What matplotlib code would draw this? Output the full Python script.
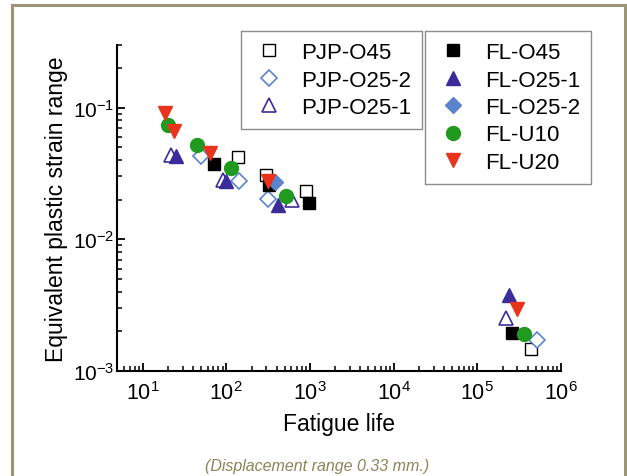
import matplotlib
matplotlib.use('Agg')
from matplotlib import pyplot as plt
from matplotlib.lines import Line2D
from matplotlib.ticker import LogLocator, NullFormatter

plt.rcParams['font.family'] = ['Liberation Sans', 'DejaVu Sans']
plt.rcParams['mathtext.fontset'] = 'custom'
plt.rcParams['mathtext.rm'] = 'Liberation Sans'
plt.rcParams['axes.unicode_minus'] = False


### fatigue life (cycles) and equivalent plastic strain range per series
pjp_o45_n = [138, 302, 908, 434000]
pjp_o45_e = [0.042, 0.031, 0.0231, 0.00146]

pjp_o25_2_n = [50, 142, 316, 521000]
pjp_o25_2_e = [0.0427, 0.0275, 0.0203, 0.00172]

pjp_o25_1_n = [22, 91, 617, 220000]
pjp_o25_1_e = [0.044, 0.0283, 0.020, 0.00251]

fl_o45_n = [71, 321, 968, 262000]
fl_o45_e = [0.037, 0.0257, 0.0188, 0.00196]

fl_o25_1_n = [25.3, 100, 416, 241000]
fl_o25_1_e = [0.0427, 0.0275, 0.0183, 0.00378]

fl_o25_2_n = [386]
fl_o25_2_e = [0.0272]

fl_u10_n = [20, 44, 115, 523, 361000]
fl_u10_e = [0.074, 0.052, 0.035, 0.0214, 0.00191]

fl_u20_n = [18.3, 23.5, 63, 316, 295000]
fl_u20_e = [0.091, 0.066, 0.045, 0.0275, 0.00294]


blue = '#5b84cc'
navy = '#3a2d9a'
red = '#e8341c'
green = '#1f9a1f'

fig = plt.figure(figsize=(6.27, 4.77), dpi=100)
ax = fig.add_axes([0.1874, 0.2201, 0.7073, 0.6841])

# open symbols (PJP)
h1 = ax.plot(pjp_o45_n, pjp_o45_e, ls='none', marker='s', ms=8.5, mfc='white', mec='black', mew=1.0, label='PJP-O45')[0]
h2 = ax.plot(pjp_o25_2_n, pjp_o25_2_e, ls='none', marker='D', ms=8.5, mfc='white', mec=blue, mew=1.2, label='PJP-O25-2')[0]
h3 = ax.plot(pjp_o25_1_n, pjp_o25_1_e, ls='none', marker='^', ms=10.5, mfc='white', mec=navy, mew=1.2, label='PJP-O25-1')[0]

# filled symbols (FL)
h4 = ax.plot(fl_o45_n, fl_o45_e, ls='none', marker='s', ms=8.5, mfc='black', mec='black', label='FL-O45')[0]
h5 = ax.plot(fl_o25_1_n, fl_o25_1_e, ls='none', marker='^', ms=10.5, mfc=navy, mec=navy, label='FL-O25-1')[0]
h6 = ax.plot(fl_o25_2_n, fl_o25_2_e, ls='none', marker='D', ms=8.5, mfc=blue, mec=blue, label='FL-O25-2')[0]
h7 = ax.plot(fl_u10_n, fl_u10_e, ls='none', marker='o', ms=10, mfc=green, mec=green, label='FL-U10')[0]
h8 = ax.plot(fl_u20_n, fl_u20_e, ls='none', marker='v', ms=10.5, mfc=red, mec=red, label='FL-U20')[0]

ax.set_xscale('log')
ax.set_yscale('log')
ax.set_xlim(5, 1e6)
ax.set_ylim(1e-3, 0.3)

ax.spines['top'].set_visible(False)
ax.spines['right'].set_visible(False)
ax.spines['left'].set_linewidth(1.5)
ax.spines['bottom'].set_linewidth(1.5)

ax.xaxis.set_major_locator(LogLocator(base=10, numticks=10))
ax.xaxis.set_minor_locator(LogLocator(base=10, subs=range(2, 10), numticks=20))
ax.yaxis.set_minor_locator(LogLocator(base=10, subs=range(2, 10), numticks=20))
ax.xaxis.set_minor_formatter(NullFormatter())
ax.yaxis.set_minor_formatter(NullFormatter())
ax.tick_params(which='major', direction='in', length=6, width=1.3)
ax.tick_params(which='minor', direction='in', length=3.5, width=1.1)
ax.tick_params(axis='x', which='major', labelsize=15.5, pad=7)
ax.tick_params(axis='y', which='major', labelsize=15, pad=2)

ax.set_xlabel('Fatigue life', fontsize=16.5)
ax.set_ylabel('Equivalent plastic strain range', fontsize=16.5)
ax.xaxis.set_label_coords(0.5, -0.125)
ax.yaxis.set_label_coords(-0.112, 0.5)

leg_kw = dict(loc='upper left', fontsize=16, frameon=True, fancybox=False, framealpha=1,
              edgecolor='#8c8c8c', borderaxespad=0, borderpad=0.5, labelspacing=0.29,
              handlelength=1.5, handletextpad=0.7, bbox_transform=fig.transFigure)
leg1 = ax.legend(handles=[h1, h2, h3], bbox_to_anchor=(0.3844, 0.9329), **leg_kw)
leg1.get_frame().set_linewidth(1.0)
ax.add_artist(leg1)
leg2 = ax.legend(handles=[h4, h5, h6, h7, h8], bbox_to_anchor=(0.6778, 0.9329), **leg_kw)
leg2.get_frame().set_linewidth(1.0)

# outer page frame and caption
frame_c = '#9b9577'
fig.add_artist(Line2D([11.5 / 627, 11.5 / 627], [0, 1 - 5.5 / 477], color=frame_c, lw=2.2, transform=fig.transFigure))
fig.add_artist(Line2D([11.5 / 627, 625 / 627], [1 - 5.5 / 477, 1 - 5.5 / 477], color=frame_c, lw=2.2, transform=fig.transFigure))
fig.add_artist(Line2D([625 / 627, 625 / 627], [0, 1 - 5.5 / 477], color=frame_c, lw=2.2, transform=fig.transFigure))
fig.text(317 / 627, 1 - 467 / 477, '(Displacement range 0.33 mm.)', ha='center', va='center',
         fontsize=11.5, style='italic', color='#8b8458')

fig.savefig('out.png', dpi=100)
